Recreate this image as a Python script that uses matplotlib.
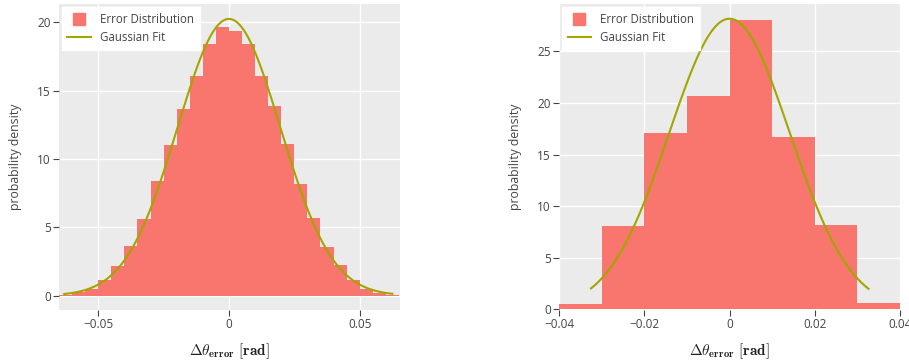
import numpy as np
import matplotlib
matplotlib.use("Agg")
import matplotlib.pyplot as plt
from matplotlib.lines import Line2D

plt.rcParams['font.family'] = ['Open Sans', 'DejaVu Sans']
plt.rcParams['mathtext.fontset'] = 'cm'

# left panel: 0.005 rad bins from -0.065 to 0.065
left_edges = np.linspace(-0.065, 0.065, 27)
left_density = [0.05, 0.24, 0.51, 1.15, 2.2, 3.63, 5.6, 8.39, 11.02, 13.66, 16.07, 18.41, 19.68,
                19.37, 18.41, 16.07, 13.88, 11.1, 8.17, 5.68, 3.56, 2.24, 1.15, 0.51, 0.17, 0.07]
left_fit = {"mu": 0.0, "sigma": 0.0197, "xmin": -0.063, "xmax": 0.0625}

# right panel: 0.01 rad bins from -0.04 to 0.04
right_edges = np.linspace(-0.04, 0.04, 9)
right_density = [0.52, 8.09, 17.14, 20.7, 28.07, 16.66, 8.18, 0.61]
right_fit = {"mu": 0.0, "sigma": 0.01416, "xmin": -0.0325, "xmax": 0.0326}

BAR = '#F8766D'
LINE = '#A3A500'
BG = '#ebebeb'
TXT = '#444444'

fig = plt.figure(figsize=(9.09, 3.63), dpi=100)

def panel(rect, edges, dens, fit, xticks, xlabels, yticks, xlim, ylim):
    ax = fig.add_axes(rect)
    ax.set_facecolor(BG)
    for s in ax.spines.values():
        s.set_visible(False)
    ax.grid(True, color='white', lw=1.0)
    ax.set_axisbelow(True)
    ax.bar(edges[:-1], dens, width=np.diff(edges), align='edge', color=BAR, lw=0, zorder=2)
    xs = np.linspace(fit["xmin"], fit["xmax"], 300)
    ys = np.exp(-0.5 * ((xs - fit["mu"]) / fit["sigma"]) ** 2) / (fit["sigma"] * np.sqrt(2 * np.pi))
    ax.plot(xs, ys, color=LINE, lw=1.5, zorder=3)
    ax.set_xlim(*xlim)
    ax.set_ylim(*ylim)
    ax.set_xticks(xticks)
    ax.set_xticklabels(xlabels)
    ax.set_yticks(yticks)
    ax.tick_params(direction='out', length=4, width=0.8, color=TXT, labelcolor=TXT,
                   labelsize=8.5, pad=2)
    ax.set_ylabel('probability density', fontsize=8.8, color=TXT)
    ax.yaxis.set_label_coords(-0.129, 0.5)
    ax.yaxis.label.set_va('center')
    ax.set_xlabel(r'$\mathbf{\Delta\theta_{error}}\ \mathbf{[rad]}$', fontsize=11, color='#222222')
    ax.xaxis.set_label_coords(0.5, -0.133)
    ax.xaxis.label.set_va('center')
    handles = [Line2D([], [], marker='s', ls='none', color=BAR, markersize=8.5),
               Line2D([], [], color=LINE, lw=1.5)]
    leg = ax.legend(handles, ['Error Distribution', 'Gaussian Fit'], loc='upper left',
                    bbox_to_anchor=(0.008, 0.99), fontsize=8.3, frameon=True, fancybox=False,
                    framealpha=1, edgecolor='white', handlelength=2.0,
                    borderpad=0.5, labelspacing=0.45, handletextpad=0.8, borderaxespad=0)
    for t in leg.get_texts():
        t.set_color(TXT)
    leg.set_zorder(5)
    return ax

panel([0.0649, 0.146, 0.3751, 0.843], left_edges, left_density, left_fit,
      [-0.05, 0, 0.05], ['\u22120.05', '0', '0.05'], [0, 5, 10, 15, 20],
      (-0.065, 0.0654), (-1.05, 21.34))
panel([0.615, 0.146, 0.3751, 0.843], right_edges, right_density, right_fit,
      [-0.04, -0.02, 0, 0.02, 0.04], ['\u22120.04', '\u22120.02', '0', '0.02', '0.04'],
      [0, 5, 10, 15, 20, 25], (-0.04, 0.04), (-0.07, 29.6))

fig.savefig('out.png', dpi=100)
